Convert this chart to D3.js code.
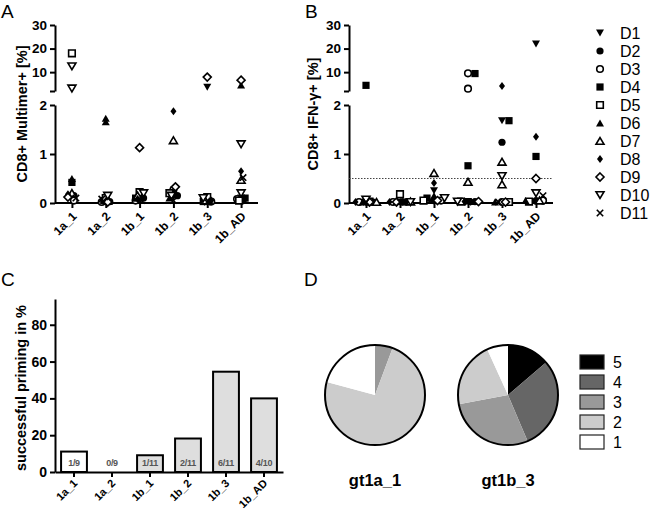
<!DOCTYPE html>
<html><head><meta charset="utf-8">
<script src="https://cdn.jsdelivr.net/npm/d3@7"></script>
<style>body{margin:0;background:#fff}svg{display:block;font-family:"Liberation Sans",Arial,sans-serif}</style>
</head><body><svg id="c" width="650" height="513"></svg>
<script>
// ---------------- data ----------------
const categories = ["1a_1","1a_2","1b_1","1b_2","1b_3","1b_AD"];
const donors = ["D1","D2","D3","D4","D5","D6","D7","D8","D9","D10","D11"];
const donorSymbols = ["triDownF","circleF","circleO","squareF","squareO","triUpF","triUpO","diamondF","diamondO","triDownO","cross"];
// Panel A: CD8+ Multimer+ [%]  (rows = donors, cols = categories; inner arrays = replicates)
const multimer = [
  [0.10, 0.02, 0.08, 0.12, 3.6, 0.10],
  [0.15, 0.03, 0.10, 0.15, 0.05, 0.05],
  [0.05, 0.02, 0.05, 0.27, 0.03, 0.08],
  [0.42, 0.05, 0.10, 0.20, 0.03, 0.10],
  [18.0, 0.10, 0.22, 0.20, 0.12, 0.05],
  [0.50, [1.73, 1.66], 0.12, 0.10, 0.05, 4.5],
  [0.20, 0.05, 0.15, 1.28, 0.05, 0.47],
  [0.18, 0.04, 0.08, 1.87, 0.05, 0.65],
  [0.12, 0.02, 1.13, 0.33, 7.9, 6.6],
  [[12.5, 3.1], 0.15, 0.20, 0.15, 0.10, [1.2, 0.2]],
  [0.10, 0.08, 0.05, 0.05, 0.02, 0.52]
];
// Panel B: CD8+ IFN-gamma+ [%]
const ifng = [
  [0.02, 0.02, 0.25, 0.03, 1.68, 21.9],
  [0.02, 0.02, 0.05, 0.03, 1.24, 0.05],
  [0.02, 0.02, 0.05, [9.5, 3.0], 0.02, 0.05],
  [4.4, 0.02, 0.10, [9.4, 0.76], 1.68, 0.95],
  [0.03, 0.18, 0.05, 0.03, 0.02, 0.03],
  [0.02, 0.03, 0.15, 0.03, 0.02, 0.05],
  [0.02, 0.03, 0.61, 0.43, [0.84, 0.38], 0.05],
  [0.02, 0.02, 0.41, 0.03, 4.1, 1.35],
  [0.02, 0.02, 0.05, 0.03, 0.02, 0.50],
  [0.07, 0.02, 0.10, 0.03, 0.55, 0.20],
  [0.02, 0.02, 0.05, 0.02, 0.02, 0.15]
];
const ifngThreshold = 0.5;
const yTicksLow = [0, 1, 2];
const yTicksHigh = [2, 10, 20, 30];
// Panel C
const primingPct = [11.1, 0, 9.1, 18.2, 54.5, 40.0];
const primingLabels = ["1/9","0/9","1/11","2/11","6/11","4/10"];
const yTicksC = [0, 20, 40, 60, 80];
// Panel D
const pieGroups = ["gt1a_1","gt1b_3"];
const pieKeys = ["5","4","3","2","1"];
const pieGt1a1 = [0, 0, 5.7, 73.5, 20.8];
const pieGt1b3 = [13.7, 29.9, 28.4, 21.2, 6.8];
const pieColors = ["#000000","#666666","#999999","#cccccc","#ffffff"];

// ---------------- helpers ----------------
const svg = d3.select("#c");
const symTypes = {
  triDownF:{draw(c){c.moveTo(-4,-3.5);c.lineTo(4,-3.5);c.lineTo(0,3.5);c.closePath();}},
  triDownO:{draw(c){c.moveTo(-4,-3.3);c.lineTo(4,-3.3);c.lineTo(0,3.5);c.closePath();}},
  triUpF:{draw(c){c.moveTo(-4,3.5);c.lineTo(4,3.5);c.lineTo(0,-3.5);c.closePath();}},
  triUpO:{draw(c){c.moveTo(-4,3.3);c.lineTo(4,3.3);c.lineTo(0,-3.5);c.closePath();}},
  circleF:{draw(c){c.moveTo(3.6,0);c.arc(0,0,3.6,0,2*Math.PI);}},
  circleO:{draw(c){c.moveTo(3.3,0);c.arc(0,0,3.3,0,2*Math.PI);}},
  squareF:{draw(c){c.rect(-3.6,-3.6,7.2,7.2);}},
  squareO:{draw(c){c.rect(-3.3,-3.3,6.6,6.6);}},
  diamondF:{draw(c){c.moveTo(0,-4);c.lineTo(3,0);c.lineTo(0,4);c.lineTo(-3,0);c.closePath();}},
  diamondO:{draw(c){c.moveTo(0,-4);c.lineTo(4,0);c.lineTo(0,4);c.lineTo(-4,0);c.closePath();}},
  cross:{draw(c){c.moveTo(-3.2,-3.2);c.lineTo(3.2,3.2);c.moveTo(3.2,-3.2);c.lineTo(-3.2,3.2);}}
};
function styleSym(sel, key){
  const open = key.endsWith("O");
  if(key==="cross") sel.attr("fill","none").attr("stroke","#000").attr("stroke-width",1.6);
  else if(open) sel.attr("fill","#fff").attr("stroke","#000").attr("stroke-width",1.6);
  else sel.attr("fill","#000").attr("stroke","none");
}
function styleAxis(g, fs){
  g.selectAll(".domain").attr("stroke","#000").attr("stroke-width",2);
  g.selectAll(".tick line").attr("stroke","#000").attr("stroke-width",2);
  g.selectAll(".tick text").attr("fill","#000").style("font-size",fs+"px").style("font-weight","bold")
    .style("font-family",'"Liberation Sans",Arial,sans-serif');
}

function scatterPanel(opt){
  const {values, x0, x1, labelText, labelX, threshold, step, maxOff, dmin} = opt;
  const yLow = d3.scaleLinear([0,2],[203,105]);
  const yHigh = d3.scaleLinear([2,30],[91,25]);
  const yFn = v => v > 2.2 ? yHigh(v) : yLow(v);
  const x = d3.scalePoint(categories,[x0,x1]).padding(0.5);
  const g = svg.append("g");
  const gl = g.append("g").attr("transform",`translate(${x0},0)`)
    .call(d3.axisLeft(yLow).tickValues(yTicksLow).tickSize(5).tickSizeOuter(0).tickFormat(d3.format("d")));
  styleAxis(gl,13.5);
  const gh = g.append("g").attr("transform",`translate(${x0},0)`)
    .call(d3.axisLeft(yHigh).tickValues(yTicksHigh).tickSize(5).tickSizeOuter(0).tickFormat(d=>d===2?"":d));
  styleAxis(gh,13.5);
  if(threshold!=null){
    g.append("line").attr("x1",x0).attr("x2",x1).attr("y1",yLow(threshold)).attr("y2",yLow(threshold))
      .attr("stroke","#444").attr("stroke-width",1).attr("stroke-dasharray","1.5,1.5");
  }
  const gx = g.append("g").attr("transform",`translate(0,203)`)
    .call(d3.axisBottom(x).tickSize(5).tickSizeOuter(0));
  styleAxis(gx,12);
  gx.select(".domain").attr("d",`M${x0},0H${x1}`);
  gx.selectAll(".tick text").attr("text-anchor","end").attr("dy",0).attr("y",0)
    .attr("transform","translate(5,14) rotate(-45)");
  g.append("text").attr("transform",`translate(${labelX},114) rotate(-90)`).attr("text-anchor","middle")
    .style("font-size","14.5px").style("font-weight","bold").text(labelText);
  const pts=[];
  values.forEach((row,di)=>row.forEach((v,ci)=>{
    [].concat(v).forEach(val=>pts.push({di,ci,v:val}));
  }));
  const cands=[0];
  for(let o=step;o<=maxOff+1e-9;o+=step){cands.push(o,-o);}
  const placed = categories.map(()=>[]);
  pts.forEach(p=>{
    const y=yFn(p.v);
    let best=0,bestD=-1;
    for(const o of cands){
      let md=Infinity;
      placed[p.ci].forEach(q=>{const dd=Math.hypot(q.dx-o,q.y-y); if(dd<md) md=dd;});
      if(md>=dmin){best=o;bestD=md;break;}
      if(md>bestD){bestD=md;best=o;}
    }
    placed[p.ci].push({dx:best,y});
    p.x = x(categories[p.ci])+best; p.y=y;
  });
  const sym = d3.symbol();
  g.append("g").selectAll("path").data(pts).join("path")
    .attr("transform",d=>`translate(${d.x},${d.y})`)
    .attr("d",d=>sym.type(symTypes[donorSymbols[d.di]])())
    .each(function(d){styleSym(d3.select(this),donorSymbols[d.di]);});
}

scatterPanel({values:multimer,x0:55,x1:258,labelText:"CD8+ Multimer+ [%]",labelX:27,step:2,maxOff:4,dmin:3});
scatterPanel({values:ifng,x0:349,x1:553,labelText:"CD8+ IFN-\u03b3+ [%]",labelX:318,threshold:ifngThreshold,step:3.5,maxOff:10.5,dmin:4.5});

// legend donors
const lg = svg.append("g");
const symL = d3.symbol();
donors.forEach((dn,i)=>{
  const y = 33 + i*18;
  const p = lg.append("path").attr("transform",`translate(600,${y})`).attr("d",symL.type(symTypes[donorSymbols[i]])());
  styleSym(p,donorSymbols[i]);
  lg.append("text").attr("x",620).attr("y",y+6).style("font-size","16px").text(dn);
});

// panel letters
[["A",1,18],["B",305,18],["C",1,286],["D",304,286]].forEach(([t,x,y])=>{
  svg.append("text").attr("x",x).attr("y",y).style("font-size","19px").text(t);
});

// ---------------- Panel C ----------------
(function(){
  const x = d3.scaleBand(categories,[55,283]).paddingInner(0.32).paddingOuter(0.16);
  const y = d3.scaleLinear([0,94],[472,299]);
  const g = svg.append("g");
  g.selectAll("rect").data(primingPct).join("rect")
    .attr("x",(d,i)=>x(categories[i])).attr("width",x.bandwidth())
    .attr("y",d=>y(d)).attr("height",d=>y(0)-y(d))
    .attr("fill",(d,i)=>i<2?"#fff":"#dedede").attr("stroke","#000").attr("stroke-width",2)
    .attr("display",d=>d>0?null:"none");
  g.selectAll("text.bl").data(primingLabels).join("text").attr("class","bl")
    .attr("x",(d,i)=>x(categories[i])+x.bandwidth()/2).attr("y",466).attr("text-anchor","middle")
    .style("font-size","9px").style("font-weight","bold").attr("fill","#555").attr("letter-spacing","-0.3").text(d=>d);
  const gy = g.append("g").attr("transform","translate(55,0)")
    .call(d3.axisLeft(y).tickValues(yTicksC).tickSize(5).tickSizeOuter(0));
  styleAxis(gy,14);
  const gx = g.append("g").attr("transform","translate(0,472)")
    .call(d3.axisBottom(x).tickSize(5).tickSizeOuter(0));
  styleAxis(gx,11);
  gx.selectAll(".tick text").attr("text-anchor","end").attr("dy",0).attr("y",0)
    .attr("transform","translate(4,12) rotate(-45)");
  g.append("text").attr("transform","translate(26,388) rotate(-90)").attr("text-anchor","middle")
    .style("font-size","14.5px").style("font-weight","bold").text("successful priming in %");
})();

// ---------------- Panel D ----------------
(function(){
  const pie = d3.pie().sort(null).value(d=>d);
  const arc = d3.arc().innerRadius(0).outerRadius(50);
  const centers = [375,508];
  [pieGt1a1,pieGt1b3].forEach((vals,k)=>{
    const g = svg.append("g").attr("transform",`translate(${centers[k]},395)`);
    g.selectAll("path").data(pie(vals)).join("path").attr("d",arc)
      .attr("fill",(d,i)=>pieColors[i]).attr("stroke","none");
    g.append("circle").attr("r",50).attr("fill","none").attr("stroke","#000").attr("stroke-width",2);
    svg.append("text").attr("x",centers[k]).attr("y",486).attr("text-anchor","middle")
      .style("font-size","16.5px").style("font-weight","bold").text(pieGroups[k]);
  });
  const lg = svg.append("g");
  pieKeys.forEach((k,i)=>{
    const cy = 362 + i*20;
    lg.append("rect").attr("x",580).attr("y",cy-7).attr("width",24).attr("height",14)
      .attr("fill",pieColors[i]).attr("stroke","#222").attr("stroke-width",1.2);
    lg.append("text").attr("x",613).attr("y",cy+6).style("font-size","16px").text(k);
  });
})();
</script></body></html>
